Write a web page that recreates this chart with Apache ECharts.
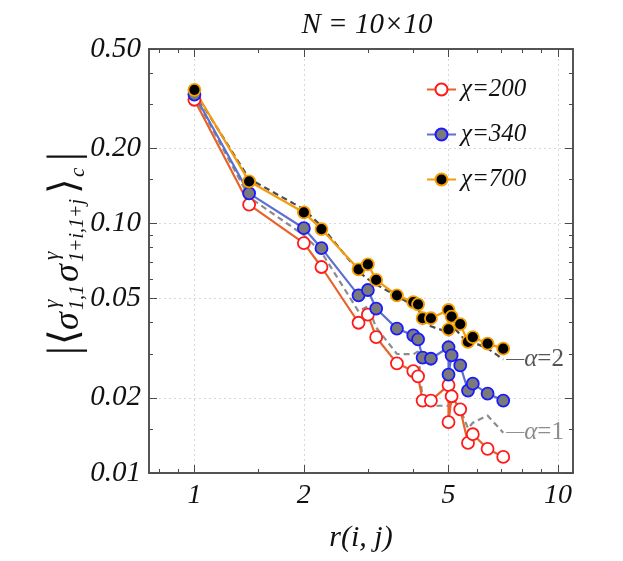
<!DOCTYPE html>
<html>
<head>
<meta charset="utf-8">
<script src="https://cdn.jsdelivr.net/npm/echarts@6/dist/echarts.min.js"></script>
<style>
  html, body { margin: 0; padding: 0; background: #fff; }
  #chart { width: 623px; height: 561px; }
</style>
</head>
<body>
<div id="chart"></div>
<script>
// distances r(i,j) on the 10x10 lattice (two points at r = 5)
const rValues = [1, 1.414, 2, 2.236, 2.828, 3, 3.162, 3.606, 4, 4.123, 4.243, 4.472, 5, 5, 5.099, 5.385, 5.657, 5.831, 6.403, 7.071]

const chi200 = [0.313, 0.119, 0.0834, 0.0669, 0.0400, 0.0431, 0.0350, 0.0275, 0.0256, 0.0244, 0.0195, 0.0195, 0.0225, 0.0160, 0.0203, 0.0180, 0.0132, 0.0143, 0.0125, 0.0116]
const chi340 = [0.3285, 0.132, 0.0957, 0.0796, 0.0515, 0.0541, 0.0456, 0.0379, 0.0356, 0.0343, 0.0290, 0.0287, 0.0319, 0.0248, 0.0296, 0.0270, 0.0214, 0.0228, 0.0208, 0.0195]
const chi700 = [0.343, 0.1475, 0.1107, 0.0949, 0.0655, 0.0686, 0.0594, 0.0515, 0.0484, 0.0474, 0.0417, 0.0417, 0.0450, 0.0376, 0.0423, 0.0395, 0.0335, 0.0350, 0.0330, 0.0315]

// reference curves (dashed)
const alpha2 = [0.337, 0.151, 0.114, 0.0975, 0.0643, 0.0598, 0.0570, 0.0511, 0.0470, 0.0457, 0.0413, 0.0387, 0.0366, 0.0353, 0.0390, 0.0359, 0.0328, 0.0334, 0.0316, 0.0285]
const alpha1 = [0.3245, 0.1275, 0.0897, 0.0767, 0.0444, 0.0466, 0.0383, 0.0300, 0.0299, 0.0307, 0.0195, 0.0186, 0.0186, 0.0185, 0.0190, 0.0180, 0.0151, 0.0159, 0.0170, 0.0145]

const xMajor = [1, 2, 5, 10]
const xMinor = [0.8, 0.9, 1.5, 3, 4, 6, 7, 8, 9]
const yMajor = [0.01, 0.02, 0.05, 0.1, 0.2, 0.5]
const yMinor = [0.015, 0.03, 0.04, 0.06, 0.07, 0.08, 0.09, 0.15, 0.3, 0.4]

const serif = '"Liberation Serif", "DejaVu Serif", serif'
const frameColor = '#4a4a4a'

function pairs(ys) {
    return rValues.map((r, i) => [r, ys[i]])
}

function makeAxis(kind, position, ticks, long, withLabels) {
    const isX = kind === 'x'
    return {
        type: 'log',
        logBase: 10,
        position: position,
        min: isX ? 0.75 : 0.01,
        max: isX ? 11 : 0.5,
        axisLine: { show: true, onZero: false, lineStyle: { color: frameColor, width: 1.5 } },
        axisTick: {
            show: true, inside: true, length: long ? 8 : 4, customValues: ticks,
            lineStyle: { color: frameColor, width: 1 }
        },
        axisLabel: {
            show: withLabels, customValues: ticks, margin: isX ? 9 : 8,
            fontFamily: serif, fontStyle: 'italic', fontSize: isX ? 28 : 29, color: '#111',
            formatter: v => isX ? String(Math.round(v)) : Number(v).toFixed(2)
        },
        splitLine: {
            show: withLabels,
            lineStyle: { color: '#d8d8d8', type: [2, 3], width: 1 }
        },
        minorTick: { show: false },
        minorSplitLine: { show: false }
    }
}

function dataSeries(name, values, lineColor, fill, border) {
    return {
        name: name,
        type: 'line',
        data: pairs(values),
        symbol: 'circle',
        symbolSize: 12,
        lineStyle: { color: lineColor, width: 2.2 },
        itemStyle: { color: fill, borderColor: border, borderWidth: 1.8 },
        emphasis: { disabled: true },
        z: 3
    }
}

function dashedSeries(name, values, color, labelColor) {
    return {
        name: name,
        type: 'line',
        data: pairs(values),
        showSymbol: false,
        lineStyle: { color: color, width: 2.2, type: [6, 4] },
        endLabel: {
            show: true,
            distance: 3,
            formatter: '{d|—}{a|α}{e|=' + name.slice(-1) + '}',
            rich: {
                d: { fontFamily: serif, fontSize: 18, color: labelColor },
                a: { fontFamily: serif, fontStyle: 'italic', fontSize: 25, color: labelColor },
                e: { fontFamily: serif, fontSize: 25, color: labelColor }
            }
        },
        emphasis: { disabled: true },
        z: 2
    }
}

// y-axis name: |<sigma^gamma_{1,1} sigma^gamma_{1+i,1+j}>_c|
const yNameParts = [
    ['|', 0, 0, 44, false],
    ['⟨', 10, 0, 40, false],
    ['σ', 25, 3, 36, true],
    ['γ', 47, -14, 21, true],
    ['1,1', 45, 12, 20, true],
    ['σ', 73, 3, 36, true],
    ['γ', 95, -14, 21, true],
    ['1+i,1+j', 93, 12, 20, true],
    ['⟩', 161, 0, 40, false],
    ['c', 178, 12, 21, true],
    ['|', 194, 0, 44, false]
]

const chartDiv = document.getElementById('chart')
const myChart = echarts.init(chartDiv, null, { renderer: 'canvas' })

myChart.setOption({
    animation: false,
    backgroundColor: '#fff',
    title: {
        text: 'N = 10×10',
        left: 362,
        top: 6,
        textAlign: 'center',
        textStyle: { fontFamily: serif, fontStyle: 'italic', fontWeight: 'normal', fontSize: 29, color: '#111' }
    },
    grid: { left: 149, right: 50, top: 49, bottom: 88, containLabel: false },
    legend: {
        data: ['χ=200', 'χ=340', 'χ=700'],
        orient: 'vertical',
        left: 421,
        top: 72,
        itemWidth: 29,
        itemHeight: 15,
        itemGap: 20,
        textStyle: { fontFamily: serif, fontStyle: 'italic', fontSize: 25, color: '#111' }
    },
    xAxis: [
        Object.assign(makeAxis('x', 'bottom', xMajor, true, true), {
            name: 'r(i, j)', nameLocation: 'middle', nameGap: 50,
            nameTextStyle: { fontFamily: serif, fontStyle: 'italic', fontSize: 30, color: '#111' }
        }),
        makeAxis('x', 'bottom', xMinor, false, false),
        makeAxis('x', 'top', xMajor, true, false),
        makeAxis('x', 'top', xMinor, false, false)
    ],
    yAxis: [
        makeAxis('y', 'left', yMajor, true, true),
        makeAxis('y', 'left', yMinor, false, false),
        makeAxis('y', 'right', yMajor, true, false),
        makeAxis('y', 'right', yMinor, false, false)
    ],
    graphic: [{
        type: 'group',
        x: 66,
        y: 355,
        rotation: Math.PI / 2,
        children: yNameParts.map(p => ({
            type: 'text',
            x: p[1],
            y: p[2],
            style: {
                text: p[0],
                font: (p[4] ? 'italic ' : '') + p[3] + 'px ' + serif,
                fill: '#111',
                textAlign: 'left',
                textVerticalAlign: 'middle',
                align: 'left',
                verticalAlign: 'middle'
            }
        }))
    }],
    series: [
        dashedSeries('α=2', alpha2, '#4d4d4d', '#555'),
        dashedSeries('α=1', alpha1, '#8c8c8c', '#8c8c8c'),
        dataSeries('χ=200', chi200, '#e8622a', '#ffffff', '#ff1a1a'),
        dataSeries('χ=340', chi340, '#5b70d0', '#7a7a7a', '#1a1aff'),
        dataSeries('χ=700', chi700, '#f29b0f', '#000000', '#f5a000')
    ]
})
</script>
</body>
</html>
